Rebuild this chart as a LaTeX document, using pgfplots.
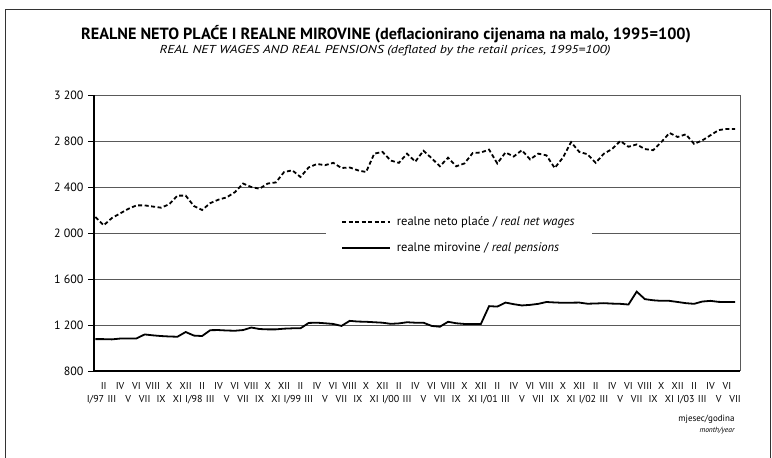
\documentclass[border=0pt]{standalone}
\usepackage{pgfplots}
\usepackage{pgfplotstable}
\pgfplotsset{compat=1.18}
\usepackage{fontspec}
\setmainfont{PT Sans}
\newcommand{\U}[1]{\raisebox{12pt}{#1}}
\pgfplotstableread{
i w p
0 2139 1077
1 2067 1077
2 2130 1075
3 2170 1082
4 2210 1083
5 2240 1083
6 2240 1118
7 2230 1110
8 2220 1104
9 2250 1100
10 2325 1098
11 2325 1139
12 2235 1108
13 2200 1104
14 2260 1155
15 2290 1156
16 2310 1152
17 2355 1150
18 2430 1156
19 2400 1178
20 2385 1165
21 2430 1162
22 2440 1162
23 2530 1168
24 2545 1171
25 2487 1171
26 2570 1218
27 2600 1220
28 2590 1215
29 2610 1209
30 2565 1192
31 2570 1236
32 2545 1230
33 2530 1228
34 2690 1224
35 2705 1220
36 2630 1210
37 2610 1214
38 2690 1224
39 2620 1220
40 2715 1220
41 2650 1192
42 2580 1185
43 2655 1228
44 2580 1215
45 2605 1209
46 2695 1208
47 2700 1209
48 2725 1364
49 2605 1360
50 2700 1395
51 2665 1381
52 2720 1370
53 2640 1375
54 2690 1384
55 2675 1400
56 2565 1396
57 2655 1393
58 2790 1394
59 2705 1395
60 2685 1385
61 2610 1387
62 2690 1390
63 2730 1386
64 2800 1384
65 2750 1378
66 2770 1490
67 2730 1425
68 2720 1415
69 2790 1410
70 2870 1410
71 2835 1400
72 2858 1390
73 2775 1384
74 2805 1404
75 2850 1410
76 2895 1401
77 2905 1400
78 2905 1400
}\datatable
\begin{document}
\begin{tikzpicture}[x=1pt,y=1pt]
\useasboundingbox (0,0) rectangle (772,458);
\draw[line width=0.8pt,black!80] (5.5,0) -- (5.5,449) -- (770.5,449) -- (770.5,0);
\node[font=\bfseries\fontsize{16.2}{18}\selectfont] at (386,424) {REALNE NETO PLAĆE I REALNE MIROVINE (deflacionirano cijenama na malo, 1995=100)};
\node[font=\itshape\fontsize{11.5}{14}\selectfont] at (385,407) {\scalebox{1.2}[1]{REAL NET WAGES AND REAL PENSIONS (deflated by the retail prices, 1995=100)}};
\node[font=\fontsize{9}{10}\selectfont, anchor=east] at (738,39) {mjesec/godina};
\node[font=\itshape\fontsize{7.5}{8}\selectfont, anchor=east] at (738,27.5) {month/year};
\begin{axis}[
  at={(94pt,87pt)}, anchor=south west,
  scale only axis, width=646pt, height=276pt,
  xmin=-0.18, xmax=78.6, ymin=800, ymax=3200,
  axis line style={draw=none},
  ytick={800,1200,1600,2000,2400,2800,3200},
  yticklabels={800,1 200,1 600,2 000,2 400,2 800,3 200},
  ymajorgrids, grid style={line width=0.8pt, black!65},
  tick align=outside, ytick pos=left, major tick length=6pt,
  ytick style={line width=0.8pt,black},
  yticklabel style={font=\fontsize{12}{14}\selectfont, xshift=-1pt},
  xtick={0,1,...,78},
  xticklabels={I/97,\U{II},III,\U{IV},V,\U{VI},VII,\U{VIII},IX,\U{X},XI,\U{XII},
I/98,\U{II},III,\U{IV},V,\U{VI},VII,\U{VIII},IX,\U{X},XI,\U{XII},
I/99,\U{II},III,\U{IV},V,\U{VI},VII,\U{VIII},IX,\U{X},XI,\U{XII},
I/00,\U{II},III,\U{IV},V,\U{VI},VII,\U{VIII},IX,\U{X},XI,\U{XII},
I/01,\U{II},III,\U{IV},V,\U{VI},VII,\U{VIII},IX,\U{X},XI,\U{XII},
I/02,\U{II},III,\U{IV},V,\U{VI},VII,\U{VIII},IX,\U{X},XI,\U{XII},
I/03,\U{II},III,\U{IV},V,\U{VI},VII},
  xtick style={draw=none},
  xticklabel style={font=\fontsize{10}{12}\selectfont, anchor=base, yshift=-25pt, inner xsep=0pt},
  legend style={at={(0.359,0.582)}, anchor=north west, draw=none, fill=white,
    font=\fontsize{12.5}{14}\selectfont, inner xsep=15pt, inner ysep=4pt, row sep=12pt, column sep=4pt},
  legend cell align=left,
  legend image code/.code={\draw[#1] (0pt,0pt) -- (48pt,0pt);},
  clip=false,
]
\addplot[black, line width=1.8pt, dash pattern=on 4pt off 2.5pt] table[x=i,y=w] {\datatable};
\addlegendentry{realne neto plaće / \textit{real net wages}}
\addplot[black, line width=1.8pt] table[x=i,y=p] {\datatable};
\addlegendentry{realne mirovine / \textit{real pensions}}
\draw[line width=2.2pt, black] (rel axis cs:0,0) -- (rel axis cs:0,1);
\draw[line width=1.6pt, black] (rel axis cs:0,0) -- (rel axis cs:1,0);
\draw[line width=0.8pt, black!65] (rel axis cs:1,0) -- (rel axis cs:1,1);
\end{axis}
\end{tikzpicture}
\end{document}
